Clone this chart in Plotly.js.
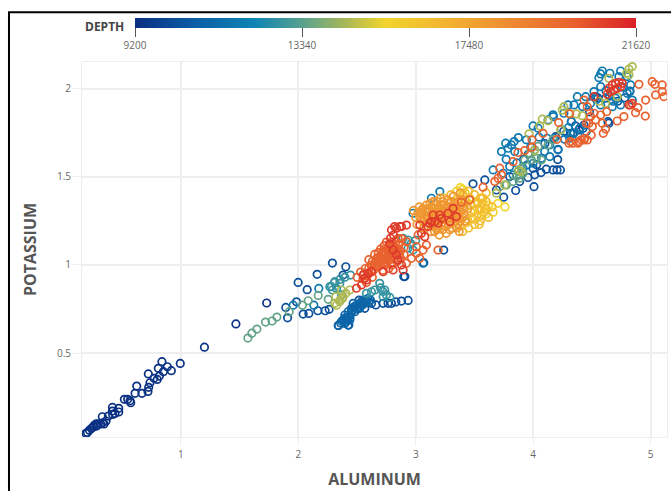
<!DOCTYPE html>
<html><head><meta charset="utf-8"><script src="https://cdn.plot.ly/plotly-3.0.1.min.js"></script>
<style>html,body{margin:0;padding:0;background:#fff}</style></head><body><div id="chart" style="width:671px;height:491px"></div>
<script>
const navy=[[.191,.044],[.203,.049],[.22,.062],[.24,.072],[.254,.081],[.26,.089],[.277,.097],[.282,.085],[.296,.097],[.316,.097],[.333,.104],[.33,.138],[.345,.097],[.362,.114],[.382,.142],[.416,.191],[.416,.17],[.418,.151],[.438,.157],[.47,.186],[.47,.165],[.518,.237],[.546,.237],[.566,.229],[.572,.218],[.609,.271],[.623,.312],[.668,.271],[.719,.282],[.725,.305],[.722,.381],[.736,.331],[.77,.356],[.798,.35],[.807,.413],[.816,.369],[.838,.451],[.85,.394],[.884,.422],[.918,.4],[.994,.441],[1.2,.533],[1.468,.665],[1.73,.784]];
const darkBlue=[[1.908,.7],[1.893,.759],[1.984,.791],[2.041,.721],[2.089,.725],[2.166,.74],[2.228,.74],[2.262,.748],[1.998,.901],[2.075,.86],[2.16,.947],[2.29,1.011],[2.404,.99],[2.381,.943],[2.342,.657],[2.424,.659],[2.935,.799],[2.878,.795],[2.83,.79],[2.793,.782],[2.764,.782],[2.722,.782],[2.66,.773],[2.623,.782],[2.566,.754],[2.518,.801],[3.068,1.013],[2.898,.934],[3.238,1.085],[2.907,.934],[4.209,1.599],[4.112,1.544],[4.169,1.54],[4.203,1.54],[4.232,1.54],[4.067,1.525],[4.013,1.512],[3.956,1.497],[4.007,1.445],[3.851,1.423],[3.749,1.385],[3.999,1.55],[3.588,1.483],[3.488,1.461],[3.8,1.502],[3.885,1.474],[3.687,1.426],[4.212,1.654],[4.339,1.748],[4.425,1.777],[4.637,1.814],[4.824,1.988],[4.617,1.947],[4.532,1.956],[4.433,1.795],[4.39,1.767],[4.319,1.748],[4.645,1.805],[4.192,1.729],[3.92,1.6],[3.96,1.63],[4.03,1.57],[4.1,1.69],[4.26,1.76],[4.36,1.79],[4.48,1.87],[4.55,1.95],[4.65,1.96],[4.72,1.93],[4.78,1.95]];
const midBlue=[[2.339,.657],[2.396,.668],[2.43,.659],[2.381,.687],[2.41,.697],[2.438,.716],[2.424,.735],[2.452,.754],[2.481,.763],[2.467,.782],[2.509,.773],[2.537,.792],[2.566,.801],[2.594,.81],[2.614,.801],[2.552,.782],[2.396,.716],[2.438,.687],[2.481,.735],[2.523,.754],[2.36,.67],[2.41,.68],[2.45,.73],[2.5,.75],[2.54,.77],[2.58,.79],[2.4,.7],[2.43,.71],[2.42,.69],[2.46,.74],[2.49,.77],[2.53,.78],[2.56,.78],[2.37,.68],[2.39,.69],[2.44,.7],[2.47,.76],[2.51,.76],[2.55,.8],[2.6,.79]];
const blue=[[1.956,.772],[2.132,.772],[2.174,.867],[3.062,1.01],[2.977,1.294],[3.205,1.417],[3.133,1.379],[3.73,1.644],[3.766,1.692],[3.786,1.663],[3.815,1.682],[3.837,1.701],[3.874,1.724],[3.843,1.644],[4.042,1.777],[3.999,1.79],[4.127,1.824],[4.169,1.853],[3.942,1.711],[4.05,1.726],[4.118,1.72],[4.141,1.682],[4.098,1.644],[4.212,1.657],[4.07,1.606],[3.999,1.578],[3.948,1.568],[3.659,1.54],[3.8,1.559],[3.744,1.521],[3.829,1.512],[3.914,1.55],[4.141,1.616],[4.325,1.815],[4.283,1.748],[4.396,1.777],[4.453,1.758],[4.311,1.72],[4.382,1.739],[4.268,1.714],[4.56,2.064],[4.589,2.102],[4.575,2.085],[4.654,2.089],[4.745,2.102],[4.73,2.07],[4.801,2.07],[4.83,2.023],[4.824,1.985],[4.575,2.013],[4.518,1.985],[4.447,1.956],[4.376,1.956],[4.297,1.909],[4.348,1.909],[4.262,1.862],[4.172,1.843],[4.325,1.814],[4.348,1.748],[4.844,1.937],[4.745,1.909],[4.674,1.899],[4.575,1.909],[4.489,1.918],[4.801,1.975],[4.702,1.947],[3.77,1.6],[3.86,1.58],[3.98,1.67],[4.18,1.72],[4.3,1.78],[4.42,1.9],[4.54,1.94],[4.62,1.99],[4.76,2.01],[4.68,1.93]];
const teal=[[2.268,.877],[2.31,.901],[2.353,.896],[2.29,.858],[2.736,.858],[2.693,.896],[2.75,.83],[2.651,.858],[2.722,.82],[2.779,.816],[2.623,.848],[2.58,.839],[2.31,.905],[2.282,.877],[2.353,.918],[2.396,.93],[2.444,.943],[2.325,.867],[2.367,.83],[2.935,1.142],[2.977,1.085],[2.935,1.095],[2.892,1.152],[2.96,1.12],[3.0,1.14],[2.7,.87],[2.72,.85]];
const green=[[1.57,.585],[1.604,.613],[1.647,.636],[1.72,.676],[1.776,.682],[1.817,.704],[1.922,.735],[2.035,.772],[2.084,.797],[2.169,.827],[2.254,.805],[3.886,1.512],[3.871,1.531],[3.9,1.55],[3.928,1.597],[3.971,1.635],[4.013,1.654],[4.042,1.673],[4.07,1.597],[3.857,1.502],[3.829,1.474],[3.772,1.455],[3.715,1.445],[3.886,1.493],[3.914,1.521],[3.985,1.597],[4.027,1.606],[4.127,1.682],[4.169,1.711],[4.24,1.771]];
const yellowGreen=[[2.325,.772],[2.353,.8],[2.381,.82],[2.31,.782],[2.438,.858],[2.367,.858],[2.319,.82],[2.376,.81],[2.353,.792],[2.404,.839],[3.965,1.745],[4.056,1.79],[4.078,1.828],[4.127,1.82],[4.368,1.858],[3.687,1.408],[3.758,1.455],[3.88,1.54],[3.9,1.53],[4.01,1.65],[4.844,2.127],[4.816,2.113],[4.796,2.089],[4.645,2.06],[4.262,1.899],[4.248,1.88],[4.418,1.848],[4.305,1.862],[4.716,1.956],[4.234,1.767],[4.816,2.08],[4.617,1.918],[4.56,1.93]];
const yellow=[[3.35,1.42],[3.38,1.44],[3.42,1.41],[3.5,1.35],[3.52,1.28],[3.58,1.33],[3.47,1.3],[3.43,1.36],[3.4,1.43],[3.55,1.31],[3.62,1.34],[3.6,1.29],[3.7,1.35],[3.76,1.33],[3.66,1.3]];
const amber=[[3.4,1.4],[3.45,1.42],[3.5,1.4],[3.55,1.38],[3.6,1.36],[3.65,1.33],[3.58,1.3],[3.62,1.27],[3.55,1.25],[3.5,1.23],[3.45,1.21],[3.4,1.19],[3.6,1.41],[3.52,1.36],[3.47,1.34],[3.54,1.32],[3.48,1.27],[3.43,1.24],[3.38,1.22],[3.57,1.35],[3.41,1.35],[3.36,1.38],[3.3,1.4],[3.24,1.38],[3.56,1.28],[3.6,1.32],[3.53,1.35],[3.46,1.38],[3.42,1.37],[3.5,1.31],[3.57,1.38],[3.49,1.26],[3.44,1.26],[3.54,1.23]];
const orange=[[2.98,1.31],[3.0,1.27],[3.01,1.23],[3.03,1.33],[3.05,1.29],[3.06,1.25],[3.07,1.21],[3.09,1.34],[3.1,1.3],[3.11,1.27],[3.12,1.23],[3.13,1.19],[3.15,1.36],[3.16,1.32],[3.17,1.28],[3.18,1.25],[3.19,1.21],[3.2,1.17],[3.21,1.38],[3.22,1.34],[3.23,1.3],[3.24,1.26],[3.25,1.22],[3.26,1.18],[3.27,1.37],[3.28,1.33],[3.29,1.29],[3.3,1.25],[3.31,1.21],[3.32,1.39],[3.33,1.35],[3.34,1.31],[3.35,1.27],[3.36,1.23],[3.37,1.19],[3.38,1.41],[3.39,1.37],[3.4,1.33],[3.41,1.29],[3.42,1.25],[3.02,1.3],[3.04,1.26],[3.08,1.28],[3.14,1.3],[3.2,1.33],[3.26,1.3],[3.32,1.33],[3.38,1.3],[3.44,1.32],[3.06,1.32],[3.12,1.35],[3.18,1.36],[3.24,1.34],[3.3,1.36],[3.36,1.36],[3.1,1.24],[3.16,1.22],[3.22,1.24],[3.28,1.23],[3.34,1.25],[3.4,1.27],[3.15,1.26],[3.21,1.28],[3.27,1.27],[3.33,1.28],[3.04,1.3],[3.07,1.27],[3.13,1.27],[3.19,1.3],[3.25,1.28],[3.31,1.29],[3.37,1.27],[3.09,1.22],[3.23,1.2],[3.29,1.2],[3.35,1.21],[3.11,1.32],[3.17,1.34],[3.35,1.33],[3.41,1.32],[3.03,1.28],[3.05,1.31],[3.08,1.31],[3.1,1.27],[3.13,1.33],[3.15,1.28],[3.14,1.24],[3.18,1.31],[3.21,1.31],[3.23,1.36],[3.26,1.33],[3.29,1.35],[3.31,1.32],[3.35,1.3],[3.37,1.33],[3.38,1.25],[3.32,1.27],[3.28,1.26],[3.24,1.23],[3.18,1.2],[3.2,1.26],[3.16,1.19],[3.25,1.32],[3.29,1.31],[3.34,1.22]];
const orangeRed=[[2.5,.93],[2.53,.96],[2.55,.92],[2.57,.98],[2.6,.95],[2.62,1.0],[2.64,.97],[2.66,1.02],[2.68,.99],[2.7,1.04],[2.72,1.01],[2.74,1.06],[2.76,1.03],[2.78,1.08],[2.8,1.05],[2.82,1.1],[2.84,1.07],[2.86,1.12],[2.7,1.09],[2.73,1.11],[2.76,1.09],[2.6,1.03],[2.65,1.06],[2.68,1.07],[2.63,.93],[2.58,.9],[2.72,.97],[2.77,.98],[2.8,1.0],[2.84,1.02],[2.87,1.04],[2.9,1.06],[2.9,1.1],[2.88,1.15],[2.85,1.15],[2.8,1.13],[2.75,1.13],[2.71,1.06],[2.74,1.0],[2.78,1.03],[2.82,1.04],[2.67,1.04],[2.63,1.02],[2.69,1.02],[2.75,1.04],[2.79,1.1],[2.83,1.13],[2.81,1.07],[2.73,1.03],[2.77,1.06],[2.85,1.09],[2.87,1.08],[2.62,.97],[2.66,.99],[2.7,1.0],[2.71,1.03],[2.75,1.01],[2.79,1.01],[2.8,1.07],[2.83,1.09],[2.86,1.06],[2.72,1.08],[2.68,1.04],[2.65,1.0],[2.6,.98],[2.56,.95],[2.77,1.11],[2.74,1.08],[2.81,1.11],[2.84,1.04],[3.062,1.085],[3.006,1.104],[2.963,1.038],[3.034,1.038],[3.091,1.114],[3.19,1.085],[2.921,1.133],[3.006,1.066],[2.921,1.01],[3.02,1.171],[3.829,1.587],[3.871,1.639],[3.928,1.65],[3.99,1.711],[3.99,1.669],[4.084,1.748],[4.217,1.809],[3.715,1.55],[3.73,1.512],[3.701,1.493],[3.673,1.474],[3.573,1.442],[4.203,1.714],[4.305,1.692],[4.339,1.692],[4.382,1.692],[4.41,1.711],[4.439,1.72],[4.453,1.805],[4.311,1.858],[5.014,2.041],[5.037,2.026],[5.099,2.023],[5.099,1.985],[5.114,1.956],[5.043,1.966],[4.901,2.026],[4.958,1.937],[4.955,1.846],[4.872,1.865],[4.892,1.894],[4.83,1.909],[4.773,1.843],[4.716,1.818],[4.597,1.748],[4.617,1.773],[4.504,1.786],[4.495,1.738],[4.433,1.937],[4.461,1.899],[4.518,1.862],[4.575,1.852],[4.626,1.871],[4.532,1.824],[4.433,1.71],[4.461,1.71],[4.319,1.701],[4.39,1.701],[4.489,1.843],[4.475,1.805],[4.589,1.805],[3.388,1.356],[3.459,1.37]];
const red=[[2.793,1.199],[2.836,1.209],[2.878,1.218],[2.785,1.152],[2.779,1.12],[2.807,1.085],[2.836,1.057],[2.85,1.029],[2.878,1.0],[2.892,.972],[2.722,.962],[2.807,.972],[2.552,.943],[2.594,.953],[2.58,.915],[2.538,.887],[2.495,.868],[2.566,.924],[2.623,.962],[3.119,1.237],[3.162,1.246],[3.219,1.265],[3.275,1.294],[3.318,1.322],[3.105,1.218],[3.19,1.237],[3.29,1.246],[3.346,1.275],[3.034,1.227],[3.048,1.18],[2.921,1.227],[3.148,1.284],[3.077,1.161],[2.81,1.17],[2.82,1.218],[2.864,1.218],[3.133,1.246],[3.204,1.284],[4.645,2.004],[4.674,2.023],[4.702,2.032],[4.731,2.038],[4.66,1.985],[4.688,1.994],[4.716,2.004],[4.745,2.013],[4.631,1.97],[4.759,2.032],[4.518,1.956],[4.816,1.909],[4.844,1.918]];
const groups=[navy,darkBlue,midBlue,blue,teal,green,yellowGreen,yellow,amber,orange,orangeRed,red];
const groupDepths=[9300,10200,11000,11700,12800,13500,14500,15400,16500,18000,20000,21000];
const depthTicks=[9200,13340,17480,21620];
const xTicks=[1,2,3,4,5];
const yTicks=[0.5,1,1.5,2];

const aluminum=[],potassium=[],depth=[];
groups.forEach((g,i)=>g.forEach(p=>{aluminum.push(p[0]);potassium.push(p[1]);depth.push(groupDepths[i]);}));

const scale=[[0,'#0a2e82'],[.12,'#0b5ea5'],[.24,'#1085b5'],[.33,'#55a090'],[.42,'#a8b858'],[.5,'#f2d42c'],[.62,'#f2b432'],[.75,'#ee8a30'],[.88,'#e85f2f'],[1,'#d91f26']];
const tickFont={family:'"Open Sans",sans-serif',size:10,color:'#666'};
const titleFont={family:'"Open Sans",sans-serif',size:16,color:'#555',weight:700};

Plotly.newPlot('chart',[{type:'scatter',mode:'markers',x:aluminum,y:potassium,
 marker:{symbol:'circle-open',size:7.5,line:{width:1.7},color:depth,cmin:9200,cmax:21620,colorscale:scale,
  colorbar:{orientation:'h',lenmode:'pixels',len:501,thickness:10,thicknessmode:'pixels',x:0.0906,xanchor:'left',y:1.1173,yanchor:'top',
   tickvals:depthTicks,ticktext:depthTicks.map(String),ticks:'outside',ticklen:9,tickcolor:'#555',tickfont:tickFont,outlinewidth:0,xpad:0,ypad:0}}}],
{width:671,height:491,margin:{l:82,r:4,t:62,b:54,autoexpand:false},paper_bgcolor:'#fff',plot_bgcolor:'#fff',showlegend:false,
 xaxis:{range:[0.157,5.14],tickvals:xTicks,ticktext:xTicks.map(String),ticks:'outside',ticklen:8,tickcolor:'#eee',tickfont:tickFont,gridcolor:'#eee',gridwidth:2,zeroline:false,showline:true,linecolor:'#eee',mirror:true,automargin:true,
  title:{text:'ALUMINUM',font:titleFont,standoff:13}},
 yaxis:{range:[0.023,2.153],tickvals:yTicks,ticktext:['0.5','1','1.5','2'],ticks:'outside',ticklen:8,tickcolor:'#eee',tickfont:tickFont,gridcolor:'#eee',gridwidth:2,zeroline:false,showline:true,linecolor:'#eee',mirror:true,automargin:true,
  title:{text:'POTASSIUM',font:titleFont,standoff:16}},
 annotations:[{text:'DEPTH',xref:'paper',yref:'paper',x:0.0906,y:1.0957,xanchor:'right',xshift:-9,yanchor:'middle',showarrow:false,font:{family:'"Open Sans",sans-serif',size:12,color:'#444',weight:700}}],
 shapes:[{type:'rect',xref:'paper',yref:'paper',x0:-0.1248,x1:1.1,y0:-0.2,y1:1.133,line:{color:'#000',width:2},layer:'below'}]
},{displayModeBar:false,responsive:false});
</script></body></html>
